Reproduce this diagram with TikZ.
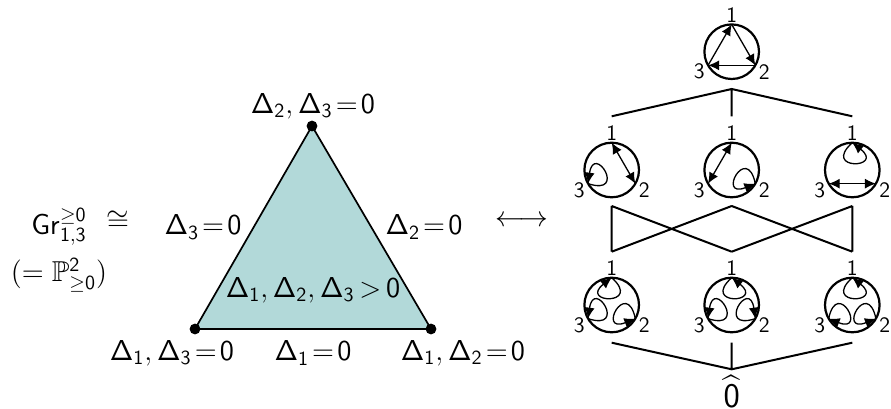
\documentclass[tikz,border=0pt,12pt]{standalone}
\usepackage{amssymb}
\usetikzlibrary{arrows.meta,calc}
\newcommand{\Dl}[1]{\mathsf{\Delta}_{\mathsf{#1}}}
\newcommand{\tz}{\!=\!\mathsf{0}}
\tikzset{
  x=0.5pt,y=0.5pt,
  disc/.style={circle,draw,line width=1.1pt,minimum size=27.3pt,inner sep=0pt,outer sep=0pt},
  vlabel/.style={inner sep=0pt,font=\sffamily\fontsize{11}{13}\selectfont},
  mathlabel/.style={inner sep=0pt,font=\large},
  edge/.style={line width=1pt},
  arc/.style={line width=0.65pt,-{Latex[length=5.5pt,width=5pt]}},
  both/.style={line width=0.65pt,{Latex[length=5.5pt,width=5pt]}-{Latex[length=5.5pt,width=5pt]}},
  vdot/.style={circle,fill=black,minimum size=5.4pt,inner sep=0pt},
}
% disc with vertex labels: name, x, y
\newcommand{\plabic}[3]{%
  \node[disc] (#1) at (#2,#3) {};
  \node[vlabel] (#1-l1) at ($(#1)+(0,37)$) {1};
  \node[vlabel] (#1-l2) at ($(#1)+(32.5,-20)$) {2};
  \node[vlabel] (#1-l3) at ($(#1)+(-32.5,-20)$) {3};
  \coordinate (#1-1) at (#1.90);
  \coordinate (#1-2) at (#1.-30);
  \coordinate (#1-3) at (#1.-150);
}
% loops: disc, vertex, inward angle
\newcommand{\lpA}[3]{\draw[arc] (#1-#2) to[out=#3-48,in=#3+52,distance=21pt] (#1-#2);}
\newcommand{\lpB}[3]{\draw[arc] (#1-#2) to[out=#3+48,in=#3-52,distance=21pt] (#1-#2);}
\begin{document}
\begin{tikzpicture}
\useasboundingbox (0,0) rectangle (891,408);
% triangle
\coordinate (A) at (312,282);
\coordinate (B) at (195,79);
\coordinate (C) at (431,79);
\fill[fill={rgb,255:red,178;green,217;blue,217}] (A)--(B)--(C)--cycle;
\draw[line width=0.85pt] (A)--(B)--(C)--cycle;
\node[vdot] (dA) at (A) {};
\node[vdot] (dB) at (B) {};
\node[vdot] (dC) at (C) {};
\node[mathlabel] (t1) at (313,302) {$\Dl{2},\Dl{3}\tz$};
\node[mathlabel] (t2) at (203,181) {$\Dl{3}\tz$};
\node[mathlabel] (t3) at (424,181) {$\Dl{2}\tz$};
\node[mathlabel] (t4) at (313,118) {$\Dl{1},\Dl{2},\Dl{3}\mskip-2mu>\mskip-2mu\mathsf{0}$};
\node[mathlabel] (t5) at (172,55) {$\Dl{1},\Dl{3}\tz$};
\node[mathlabel] (t6) at (313,55) {$\Dl{1}\tz$};
\node[mathlabel] (t7) at (463,55) {$\Dl{1},\Dl{2}\tz$};
\node[mathlabel] (gr) at (59,181) {$\mathsf{Gr}^{\geq\mathsf{0}}_{\mathsf{1,3}}$};
\node[mathlabel] (cong) at (118,187) {$\cong$};
\node[mathlabel] (pp) at (59,133) {$(=\mathbb{P}^{\mathsf{2}}_{\geq\mathsf{0}})$};
\node[mathlabel] (lr) at (522,187) {$\longleftrightarrow$};
% discs
\plabic{top}{731.7}{356.3}
\plabic{ma}{611.7}{238}
\plabic{mb}{731.7}{238}
\plabic{mc}{852.3}{238}
\plabic{la}{611.7}{103}
\plabic{lb}{731.7}{103}
\plabic{lc}{852.3}{103}
% chords
\draw[arc] (top-3)--(top-1);
\draw[arc] (top-1)--(top-2);
\draw[arc] (top-2)--(top-3);
\draw[both] (ma-1)--(ma-2);
\lpA{ma}{3}{30}
\draw[both] (mb-1)--(mb-3);
\lpA{mb}{2}{150}
\draw[both] (mc-2)--(mc-3);
\lpA{mc}{1}{-90}
\lpB{la}{1}{-90}
\lpA{la}{2}{150}
\lpA{la}{3}{30}
\lpA{lb}{1}{-90}
\lpB{lb}{2}{150}
\lpA{lb}{3}{30}
\lpA{lc}{1}{-90}
\lpA{lc}{2}{150}
\lpB{lc}{3}{30}
% Hasse diagram
\coordinate (hubT) at (731.7,319);
\coordinate (a1) at (611.7,291.7);
\coordinate (a2) at (731.7,291.7);
\coordinate (a3) at (852.3,291.7);
\coordinate (b1) at (611.7,202);
\coordinate (b2) at (731.7,202);
\coordinate (b3) at (852.3,202);
\coordinate (c1) at (611.7,156.3);
\coordinate (c2) at (731.7,156.3);
\coordinate (c3) at (852.3,156.3);
\coordinate (d1) at (611.7,65.3);
\coordinate (d2) at (731.7,65.3);
\coordinate (d3) at (852.3,65.3);
\coordinate (hubB) at (731.7,38.7);
\draw[edge] (a1)--(hubT)--(a3) (a2)--(hubT);
\draw[edge] (b1)--(c1) (b1)--(c2) (b2)--(c1) (b2)--(c3) (b3)--(c2) (b3)--(c3);
\draw[edge] (d1)--(hubB)--(d3) (d2)--(hubB);
\node[inner sep=0pt,font=\fontsize{16}{18}\selectfont] (zero) at (731.7,17) {$\widehat{\mathsf{0}}$};
\end{tikzpicture}
\end{document}
